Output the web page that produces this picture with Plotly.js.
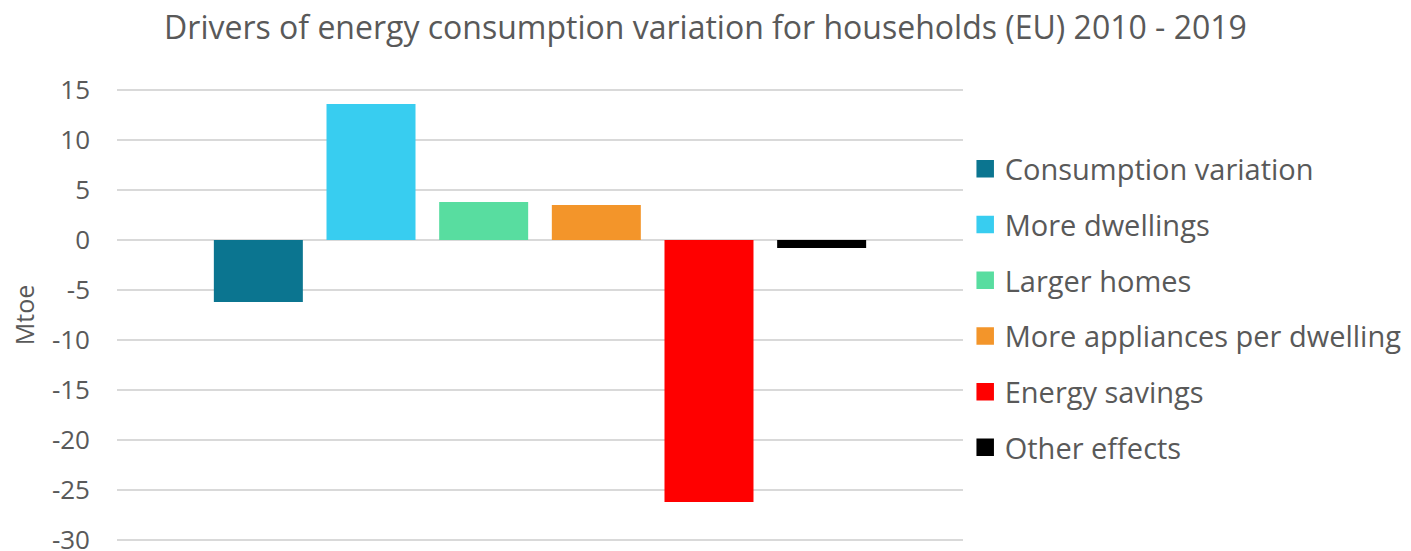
<!DOCTYPE html>
<html>
<head>
<meta charset="utf-8">
<script src="https://cdn.plot.ly/plotly-3.0.1.min.js"></script>
<style>html,body{margin:0;padding:0;background:#fff;}#chart{width:1411px;height:551px;}</style>
</head>
<body>
<div id="chart"></div>
<script>
const category = ['EU 2010-2019'];
const seriesNames = ['Consumption variation', 'More dwellings', 'Larger homes', 'More appliances per dwelling', 'Energy savings', 'Other effects'];
const seriesValues = [-6.2, 13.6, 3.8, 3.5, -26.2, -0.8];
const seriesColors = ['#0b7590', '#38cdf0', '#58dda0', '#f3952a', '#ff0000', '#000000'];
const yTicks = [15, 10, 5, 0, -5, -10, -15, -20, -25, -30];

const textColor = '#595959';
const font = 'Open Sans, sans-serif';

const traces = seriesNames.map((name, i) => ({
  type: 'bar',
  name: name,
  x: category,
  y: [seriesValues[i]],
  marker: {color: seriesColors[i]},
  legendgroup: 'g' + i,
  hoverinfo: 'name+y'
}));

const layout = {
  width: 1411,
  height: 551,
  margin: {l: 117, r: 448, t: 87, b: 8},
  paper_bgcolor: '#ffffff',
  plot_bgcolor: '#ffffff',
  font: {family: font, color: textColor, size: 26},
  title: {
    text: 'Drivers of energy consumption variation for households (EU) 2010 - 2019',
    font: {family: font, size: 32, color: textColor},
    x: 0.5, xref: 'container', xanchor: 'center',
    y: 0.95, yref: 'container', yanchor: 'middle'
  },
  barmode: 'group',
  bargap: 0.201,
  bargroupgap: 0.21,
  showlegend: true,
  legend: {
    x: 0.6837, xanchor: 'left', xref: 'container',
    y: 0.7396, yanchor: 'top', yref: 'container',
    maxheight: 450,
    font: {family: font, size: 29, color: textColor},
    tracegroupgap: 15,
    itemwidth: 30,
    bgcolor: 'rgba(0,0,0,0)'
  },
  xaxis: {
    type: 'category',
    showticklabels: false,
    showgrid: false,
    zeroline: false,
    showline: false,
    ticks: ''
  },
  yaxis: {
    range: [-30.3, 15.3],
    tickvals: yTicks,
    ticktext: yTicks.map(String),
    showgrid: true,
    gridcolor: '#d9d9d9',
    gridwidth: 1.3,
    zeroline: true,
    zerolinecolor: '#d9d9d9',
    zerolinewidth: 1.3,
    showline: false,
    ticks: '',
    ticklabelstandoff: 26,
    ticklabeloverflow: 'allow',
    tickfont: {family: font, size: 26, color: textColor},
    title: {text: 'Mtoe', font: {family: font, size: 25, color: textColor}, standoff: 10}
  }
};

Plotly.newPlot('chart', traces, layout, {displayModeBar: false, staticPlot: true}).then(() => {
  document.querySelectorAll('.legendpoints path').forEach(p => {
    p.removeAttribute('transform');
    p.setAttribute('d', 'M29.25,8.75H11.75V-8.75H29.25Z');
    p.style.strokeWidth = '0';
  });
});
</script>
</body>
</html>
